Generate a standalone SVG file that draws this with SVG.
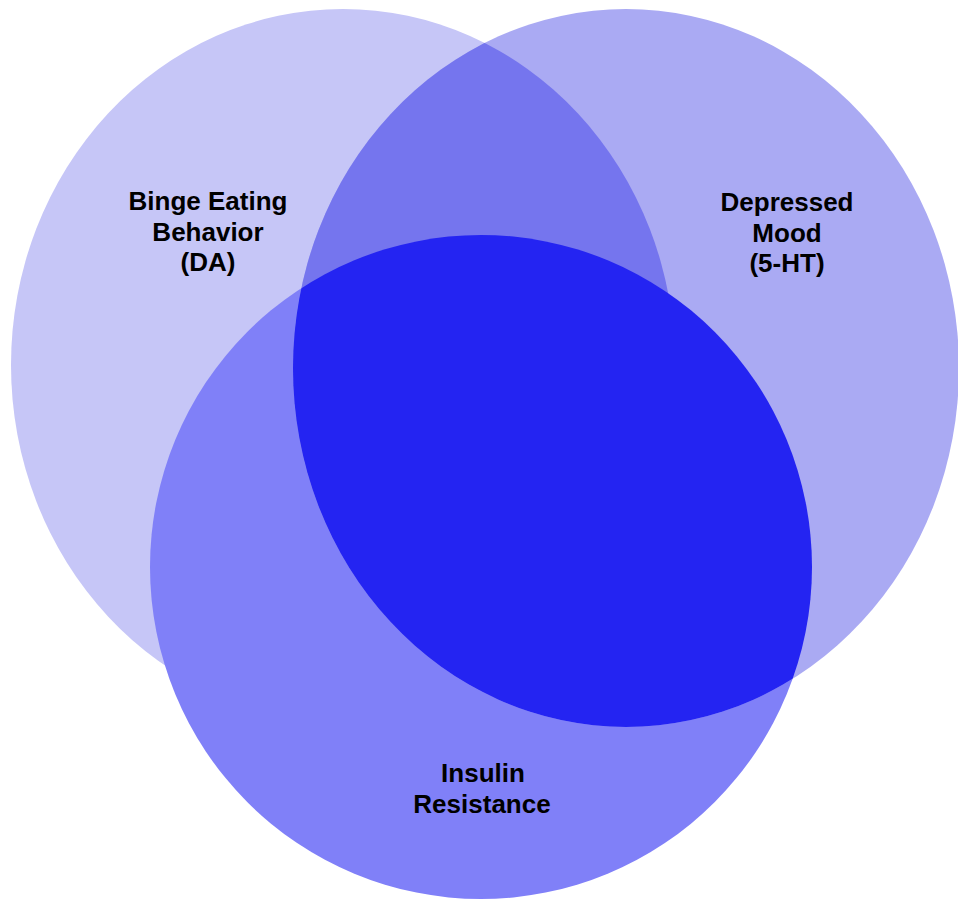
<svg xmlns="http://www.w3.org/2000/svg" width="958" height="902" viewBox="0 0 958 902">
  <style>
    .lbl { font-family: "Liberation Sans", Arial, sans-serif; font-weight: bold; font-size: 26px; fill: #000; text-anchor: middle; }
  </style>
  <defs>
    <clipPath id="clipC2">
      <ellipse cx="626" cy="368" rx="333" ry="359"/>
    </clipPath>
  </defs>
  <rect width="958" height="902" fill="#ffffff"/>
  <g id="binge-eating">
    <ellipse cx="343" cy="365" rx="332" ry="356" fill="#c6c6f7"/>
  </g>
  <g id="insulin-resistance">
    <ellipse cx="481" cy="567" rx="331" ry="332" fill="#8080f8"/>
  </g>
  <g id="depressed-mood">
    <ellipse cx="626" cy="368" rx="333" ry="359" fill="#aaaaf3"/>
  </g>
  <g id="overlaps">
    <ellipse id="binge-depressed" cx="343" cy="365" rx="332" ry="356" fill="#7575ee" clip-path="url(#clipC2)"/>
    <ellipse id="depressed-insulin" cx="481" cy="567" rx="331" ry="332" fill="#2424f2" clip-path="url(#clipC2)"/>
  </g>
  <g id="labels">
    <text class="lbl" x="208" y="210">Binge Eating</text>
    <text class="lbl" x="208" y="241">Behavior</text>
    <text class="lbl" x="208" y="271">(DA)</text>
    <text class="lbl" x="787" y="211">Depressed</text>
    <text class="lbl" x="787" y="242">Mood</text>
    <text class="lbl" x="787" y="272">(5-HT)</text>
    <text class="lbl" x="483" y="782">Insulin</text>
    <text class="lbl" x="482" y="813">Resistance</text>
  </g>
</svg>
